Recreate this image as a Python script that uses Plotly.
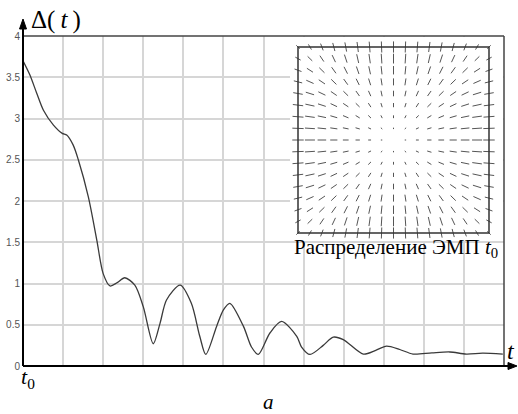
import numpy as np
import plotly.graph_objects as go

# ---- main curve data (t in grid units, Delta(t)) ----
t_vals = [0, 0.17, 0.34, 0.51, 0.76, 0.98, 1.09, 1.25, 1.38, 1.63, 1.84, 2.0, 2.17, 2.35,
          2.54, 2.79, 3.0, 3.25, 3.42, 3.58, 3.92, 4.2, 4.41, 4.56, 4.83, 5.0, 5.16, 5.5,
          5.7, 5.87, 6.16, 6.45, 6.83, 6.95, 7.16, 7.49, 7.74, 7.99, 8.49, 8.8, 9.07,
          9.4, 9.73, 10.2, 10.65, 11.06, 11.47, 11.97]
delta_vals = [3.70, 3.53, 3.31, 3.10, 2.92, 2.82, 2.80, 2.68, 2.50, 2.05, 1.53, 1.12, 0.97, 1.01,
              1.07, 0.98, 0.72, 0.27, 0.52, 0.80, 0.98, 0.76, 0.36, 0.14, 0.48, 0.68, 0.76, 0.48,
              0.23, 0.14, 0.40, 0.54, 0.36, 0.23, 0.14, 0.25, 0.35, 0.32, 0.145, 0.19, 0.24,
              0.20, 0.145, 0.16, 0.17, 0.145, 0.155, 0.145]

y_ticks = [0, 0.5, 1, 1.5, 2, 2.5, 3, 3.5, 4]
y_tick_text = ["0", "0.5", "1", "1.5", "2", "2.5", "3", "3.5", "4"]

# ---- inset field (grid of 17 x 17 points, radial segments) ----
grid_n = 17
edge_damping = 0.7      # how much segment length shrinks toward the corners
seg_len = 0.12          # longest segment, inset units

W, H = 518, 414
ml, mr, mt, mb = 23, 14, 36, 48
pw, ph = W - ml - mr, H - mt - mb

fig = go.Figure()

fig.add_trace(go.Scatter(
    x=t_vals, y=delta_vals, mode="lines",
    line=dict(color="#3a3a3a", width=1.3, shape="spline", smoothing=0.8),
    hoverinfo="skip", showlegend=False, xaxis="x", yaxis="y"))

# inset field segments
g = np.linspace(-1, 1, grid_n)
xs, ys = [], []
for gx in g:
    for gy in g:
        vx = gx * (1 - edge_damping * gy * gy) * seg_len
        vy = gy * (1 - edge_damping * gx * gx) * seg_len
        xs += [gx - vx / 2, gx + vx / 2, None]
        ys += [gy - vy / 2, gy + vy / 2, None]
fig.add_trace(go.Scatter(
    x=xs, y=ys, mode="lines", line=dict(color="#555", width=1),
    hoverinfo="skip", showlegend=False, xaxis="x2", yaxis="y2"))

# inset geometry in pixels
box_l, box_r, box_t, box_b = 298, 489, 47, 233
wa_l, wa_r, wa_t, wa_b = 290, 503, 37, 241
sx = (box_r - box_l) / 2.0
sy = (box_b - box_t) / 2.0
x2_range = [-1 - (box_l - wa_l) / sx, 1 + (wa_r - box_r) / sx]
y2_range = [-1 - (wa_b - box_b) / sy, 1 + (box_t - wa_t) / sy]

def px(xp):
    return (xp - ml) / pw

def py(yp):
    return (H - mb - yp) / ph

fig.update_layout(
    width=W, height=H,
    margin=dict(l=ml, r=mr, t=mt, b=mb, autoexpand=False),
    paper_bgcolor="white", plot_bgcolor="white",
    xaxis=dict(range=[0, 12], dtick=1, tick0=0, showgrid=True, gridcolor="#d6d6d6",
               gridwidth=1.5, showticklabels=False, ticks="", zeroline=False,
               showline=False, domain=[0, 1], automargin=False),
    yaxis=dict(range=[0, 4], tickvals=y_ticks, ticktext=y_tick_text, showgrid=True,
               gridcolor="#d6d6d6", gridwidth=1.5, ticks="", zeroline=False, showline=False,
               tickfont=dict(family="Liberation Sans", size=10, color="#555"),
               ticklabelstandoff=2, domain=[0, 1], automargin=False),
    xaxis2=dict(range=x2_range, domain=[px(wa_l), px(wa_r)], anchor="y2", automargin=False,
                showgrid=False, zeroline=False, showticklabels=False, ticks="", showline=False),
    yaxis2=dict(range=y2_range, domain=[py(wa_b), py(wa_t)], anchor="x2", automargin=False,
                showgrid=False, zeroline=False, showticklabels=False, ticks="", showline=False),
)

shapes = []
# inset box
shapes.append(dict(type="rect", xref="x2", yref="y2", x0=-1, x1=1, y0=-1, y1=1,
                   line=dict(color="#333", width=1.5), layer="above"))
# top and right borders
shapes.append(dict(type="line", xref="paper", yref="paper", x0=0, x1=1, y0=1, y1=1,
                   line=dict(color="#444", width=1.5), layer="above"))
shapes.append(dict(type="line", xref="paper", yref="paper", x0=1, x1=1, y0=0, y1=1,
                   line=dict(color="#444", width=1.5), layer="above"))
# left axis with arrow
shapes.append(dict(type="line", xref="paper", yref="paper", x0=0, x1=0, y0=0, y1=py(28),
                   line=dict(color="black", width=2), layer="above"))
shapes.append(dict(type="path", xref="paper", yref="paper",
                   path=f"M {px(19.5)},{py(29)} L {px(26.5)},{py(29)} L {px(23)},{py(19)} Z",
                   fillcolor="black", line=dict(color="black", width=1), layer="above"))
# bottom axis with arrow
shapes.append(dict(type="line", xref="paper", yref="paper", x0=0, x1=px(509), y0=0, y1=0,
                   line=dict(color="black", width=2), layer="above"))
shapes.append(dict(type="path", xref="paper", yref="paper",
                   path=f"M {px(508)},{py(362.5)} L {px(508)},{py(369.5)} L {px(517)},{py(366)} Z",
                   fillcolor="black", line=dict(color="black", width=1), layer="above"))
fig.update_layout(shapes=shapes)

serif = "Liberation Serif"
ann = [
    dict(text="Δ(\u2009<i>t</i>\u2009)", x=px(29), y=py(20), xanchor="left", yanchor="middle",
         font=dict(family=serif, size=25, color="black")),
    dict(text="<i>t</i>", x=px(511), y=py(351), xanchor="center", yanchor="middle",
         font=dict(family=serif, size=24, color="black")),
    dict(text="<i>t</i><sub>0</sub>", x=px(28), y=py(378), xanchor="center", yanchor="middle",
         font=dict(family=serif, size=22, color="black")),
    dict(text="<i>a</i>", x=px(268), y=py(402), xanchor="center", yanchor="middle",
         font=dict(family=serif, size=21, color="black")),
    dict(text="Распределение ЭМП <i>t</i><sub>0</sub>", x=px(396), y=py(248),
         xanchor="center", yanchor="middle",
         font=dict(family=serif, size=21, color="black")),
]
for a in ann:
    a.update(xref="paper", yref="paper", showarrow=False)
fig.update_layout(annotations=ann)

fig.write_html("out.html", config={"displayModeBar": False},
               post_script="document.body.style.margin='0';")
